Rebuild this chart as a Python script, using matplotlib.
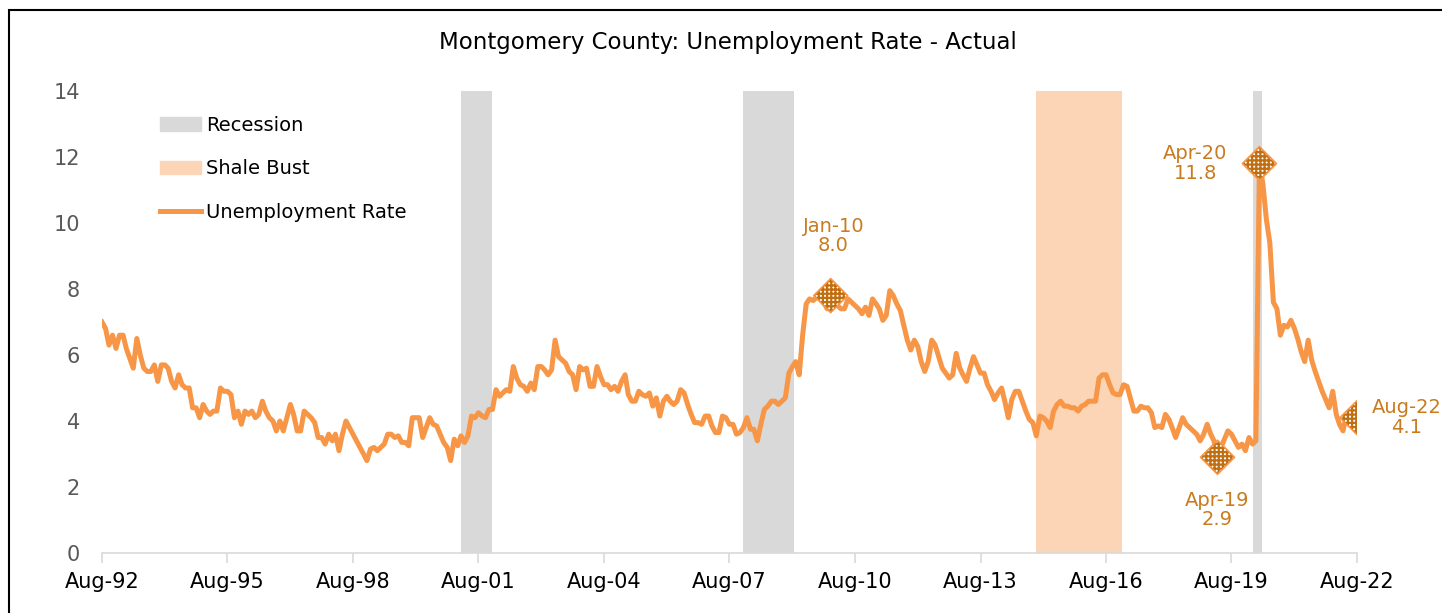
import pandas as pd
import matplotlib.pyplot as plt
import matplotlib.dates as mdates
from matplotlib.patches import Patch, Rectangle
from matplotlib.lines import Line2D

# monthly unemployment rate, Aug-1992 .. Aug-2022 (one row per 12 months)
rate = [
    7.0, 6.8, 6.3, 6.6, 6.2, 6.6, 6.6, 6.2, 5.9, 5.6, 6.5, 6.0,
    5.6, 5.5, 5.5, 5.7, 5.2, 5.7, 5.7, 5.6, 5.2, 5.0, 5.4, 5.1,
    5.0, 5.0, 4.4, 4.4, 4.1, 4.5, 4.3, 4.2, 4.3, 4.3, 5.0, 4.9,
    4.9, 4.8, 4.1, 4.3, 3.9, 4.3, 4.2, 4.3, 4.1, 4.2, 4.6, 4.3,
    4.1, 4.0, 3.7, 4.0, 3.7, 4.1, 4.5, 4.2, 3.7, 3.7, 4.3, 4.2,
    4.1, 3.95, 3.5, 3.5, 3.3, 3.6, 3.4, 3.6, 3.1, 3.6, 4.0, 3.8,
    3.6, 3.4, 3.2, 3.0, 2.8, 3.15, 3.2, 3.1, 3.2, 3.3, 3.6, 3.6,
    3.5, 3.55, 3.35, 3.35, 3.25, 4.1, 4.1, 4.1, 3.5, 3.8, 4.1, 3.9,
    3.85, 3.6, 3.35, 3.2, 2.8, 3.45, 3.25, 3.55, 3.35, 3.55, 4.15, 4.1,
    4.25, 4.15, 4.1, 4.35, 4.35, 4.95, 4.75, 4.85, 4.95, 4.9, 5.65, 5.3,
    5.1, 5.05, 4.9, 5.15, 4.95, 5.65, 5.65, 5.55, 5.4, 5.55, 6.45, 5.95,
    5.85, 5.75, 5.5, 5.4, 4.95, 5.65, 5.55, 5.6, 5.05, 5.05, 5.65, 5.35,
    5.1, 5.1, 4.95, 5.05, 4.9, 5.2, 5.4, 4.8, 4.6, 4.6, 4.9, 4.8,
    4.75, 4.85, 4.45, 4.7, 4.15, 4.6, 4.75, 4.6, 4.5, 4.6, 4.95, 4.85,
    4.5, 4.2, 3.95, 3.95, 3.9, 4.15, 4.15, 3.85, 3.65, 3.65, 4.15, 4.1,
    3.9, 3.9, 3.6, 3.65, 3.8, 4.1, 3.75, 3.75, 3.4, 3.9, 4.35, 4.45,
    4.6, 4.6, 4.5, 4.6, 4.7, 5.45, 5.65, 5.8, 5.4, 6.6, 7.55, 7.7,
    7.65, 7.75, 7.8, 7.6, 7.4, 7.8, 7.75, 7.5, 7.4, 7.4, 7.7, 7.6,
    7.5, 7.4, 7.25, 7.45, 7.2, 7.7, 7.55, 7.4, 7.05, 7.2, 7.95, 7.8,
    7.55, 7.35, 6.9, 6.45, 6.15, 6.45, 6.25, 5.8, 5.5, 5.8, 6.45, 6.3,
    5.95, 5.6, 5.45, 5.3, 5.4, 6.05, 5.6, 5.4, 5.2, 5.6, 5.95, 5.7,
    5.45, 5.45, 5.1, 4.9, 4.65, 4.85, 5.0, 4.6, 4.1, 4.65, 4.9, 4.9,
    4.6, 4.3, 4.05, 3.95, 3.55, 4.15, 4.1, 4.0, 3.8, 4.3, 4.5, 4.6,
    4.45, 4.45, 4.4, 4.4, 4.3, 4.45, 4.5, 4.6, 4.6, 4.6, 5.3, 5.4,
    5.4, 5.1, 4.85, 4.8, 4.8, 5.1, 5.05, 4.7, 4.3, 4.3, 4.45, 4.4,
    4.4, 4.25, 3.8, 3.85, 3.8, 4.2, 4.05, 3.8, 3.5, 3.8, 4.1, 3.9,
    3.8, 3.7, 3.6, 3.4, 3.6, 3.9, 3.6, 3.4, 2.9, 3.2, 3.45, 3.7,
    3.6, 3.4, 3.2, 3.3, 3.1, 3.5, 3.3, 3.4, 11.8, 11.2, 10.1, 9.4,
    7.6, 7.4, 6.6, 6.9, 6.85, 7.05, 6.8, 6.5, 6.1, 5.8, 6.45, 5.85,
    5.5, 5.2, 4.9, 4.65, 4.4, 4.9, 4.2, 3.9, 3.7, 4.2, 4.3, 4.2,
    4.1,
]
dates = pd.date_range("1992-08-01", periods=len(rate), freq="MS")

recessions = [("2001-03-01", "2001-12-01"), ("2007-12-01", "2009-02-15"),
              ("2020-02-01", "2020-04-20")]
shale_bust = ("2014-12-01", "2016-12-20")

# highlighted points: date, label text, offset (points), alignment
marks = [("2010-01-01", "Jan-10\n8.0", (2, 29), "center", "bottom"),
         ("2019-04-01", "Apr-19\n2.9", (0, -24), "center", "top"),
         ("2020-04-01", "Apr-20\n11.8", (-46, 0), "center", "center"),
         ("2022-08-01", "Aug-22\n4.1", (36, 0), "center", "center")]

line_col = "#F79646"
rec_col = "#D9D9D9"
shale_col = "#FBD5B5"
lab_col = "#C97B1F"

plt.rcParams["font.family"] = ["DejaVu Sans"]
plt.rcParams["hatch.linewidth"] = 1.6

fig = plt.figure(figsize=(14.42, 6.13), dpi=100)
ax = fig.add_axes([102 / 1442, 60 / 613, 1255 / 1442, 462 / 613])

for s, e in recessions:
    ax.axvspan(pd.Timestamp(s), pd.Timestamp(e), color=rec_col, lw=0, zorder=0)
ax.axvspan(pd.Timestamp(shale_bust[0]), pd.Timestamp(shale_bust[1]),
           color=shale_col, lw=0, zorder=0)

ax.plot(dates, rate, color=line_col, lw=3.6, solid_joinstyle="round", zorder=2)

s = pd.Series(rate, index=dates)
for d, txt, off, ha, va in marks:
    d = pd.Timestamp(d)
    ax.scatter([d], [s[d]], marker="D", s=300, facecolor="white",
               edgecolor="#C06F12", hatch="++++", lw=0, zorder=3)
    ax.scatter([d], [s[d]], marker="D", s=300, facecolor="none",
               edgecolor=line_col, lw=1.2, zorder=4)
    ax.annotate(txt, (d, s[d]), xytext=off, textcoords="offset points",
                ha=ha, va=va, color=lab_col, fontsize=14, linespacing=1.05,
                multialignment="center")

ax.set_xlim(dates[0], dates[-1])
ax.set_ylim(0, 14)
ax.set_yticks(range(0, 15, 2))
ax.set_xticks(dates[::36])
ax.xaxis.set_major_formatter(mdates.DateFormatter("%b-%y"))

for side in ["top", "right", "left"]:
    ax.spines[side].set_visible(False)
ax.spines["bottom"].set_color(rec_col)
ax.spines["bottom"].set_linewidth(1.2)
ax.tick_params(axis="x", colors=rec_col, length=7, width=1.2, pad=7,
               labelcolor="black", labelsize=15)
ax.tick_params(axis="y", length=0, pad=16, labelcolor="#595959", labelsize=15)

fig.text(728 / 1442, 1 - 42 / 613, "Montgomery County: Unemployment Rate - Actual",
         ha="center", va="center", fontsize=16.5)

handles = [Patch(color=rec_col, label="Recession"),
           Patch(color=shale_col, label="Shale Bust"),
           Line2D([], [], color=line_col, lw=3.6, label="Unemployment Rate")]
ax.legend(handles=handles, loc="upper left", bbox_to_anchor=(160 / 1442, 1 - 116 / 613),
          bbox_transform=fig.transFigure, frameon=False, fontsize=14,
          handlelength=2.1, handletextpad=0.25, labelspacing=1.25,
          borderpad=0, borderaxespad=0)

fig.patches.append(Rectangle((9 / 1442, -0.1), 1.2, 0.1 + 1 - 10 / 613,
                             transform=fig.transFigure, fill=False,
                             edgecolor="black", lw=1.5))

fig.savefig("out.png", dpi=100)
